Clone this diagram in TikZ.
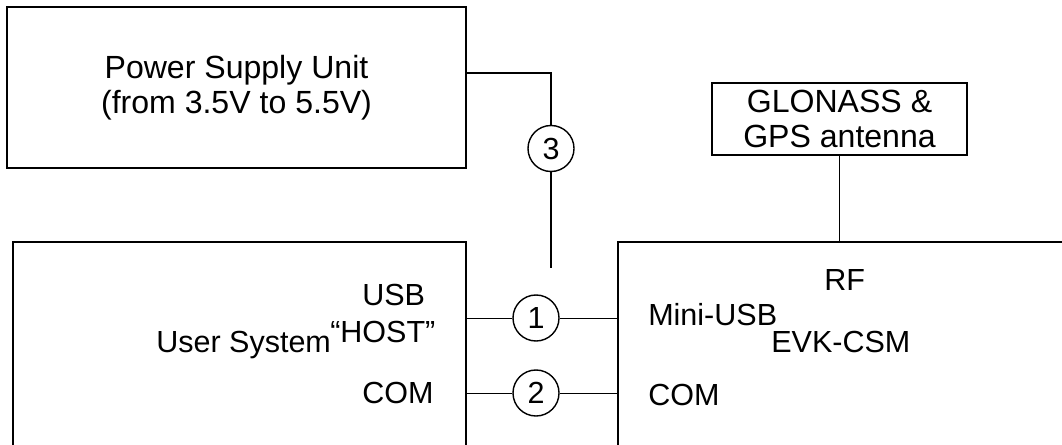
\documentclass[tikz,border=0pt]{standalone}
\usepackage{fontspec}
\setmainfont{Liberation Sans}
\usetikzlibrary{positioning}

\begin{document}
\begin{tikzpicture}[
      x=0.025cm, y=-0.025cm,
      every node/.style={font=\fontsize{21.7}{23.5}\selectfont},
      block/.style={draw, rectangle, line width=1.3pt, inner sep=0pt, align=center},
      big/.style={font=\fontsize{22.8}{24.6}\selectfont},
      port/.style={draw, circle, line width=1pt, minimum size=1.15cm, inner sep=0pt},
      lbl/.style={anchor=base west, inner sep=0pt},
      wire/.style={line width=0.6pt},
      pwire/.style={line width=1.1pt}
    ]
      \clip (0,0) rectangle (1062,445);

      % boxes
      \node[block, big, minimum width=11.475cm, minimum height=4.025cm] (psu) at (236.5,87.5)
        {Power Supply Unit\\(from 3.5V to 5.5V)};
      \node[block, big, minimum width=6.375cm, minimum height=1.8cm] (ant) at (839.5,119)
        {GLONASS \&\\GPS antenna};
      \node[block, minimum width=11.325cm, minimum height=5.95cm] (usr) at (239.5,361) {};
      \node[block, minimum width=12.05cm, minimum height=5.95cm] (evk) at (859,361) {};

      % texts in the boxes
      \node[lbl] (usrname) at (156,352) {User System};
      \node[lbl] (usb) at (362,305) {USB};
      \node[lbl] (host) at (330,342) {“HOST”};
      \node[lbl] (comusr) at (362,403) {COM};
      \node[lbl] (rf) at (824,290) {RF};
      \node[lbl] (miniusb) at (648,325) {Mini-USB};
      \node[lbl] (evkname) at (771,352) {EVK-CSM};
      \node[lbl] (comevk) at (648,405) {COM};

      % cable numbers
      \node[port] (c1) at (536,318) {1};
      \node[port] (c2) at (536,393) {2};
      \node[port] (c3) at (551,148.5) {3};
      \coordinate (end3) at (551,268);

      \draw[pwire] ([yshift=0.3625cm]psu.east) -| (c3);
      \draw[pwire] (c3) -- (end3);
      \draw[wire] (c1 -| usr.east) -- (c1) -- (c1 -| evk.west);
      \draw[wire] (c2 -| usr.east) -- (c2) -- (c2 -| evk.west);
      \draw[wire] (ant) -- (ant |- evk.north);
    \end{tikzpicture}
\end{document}
